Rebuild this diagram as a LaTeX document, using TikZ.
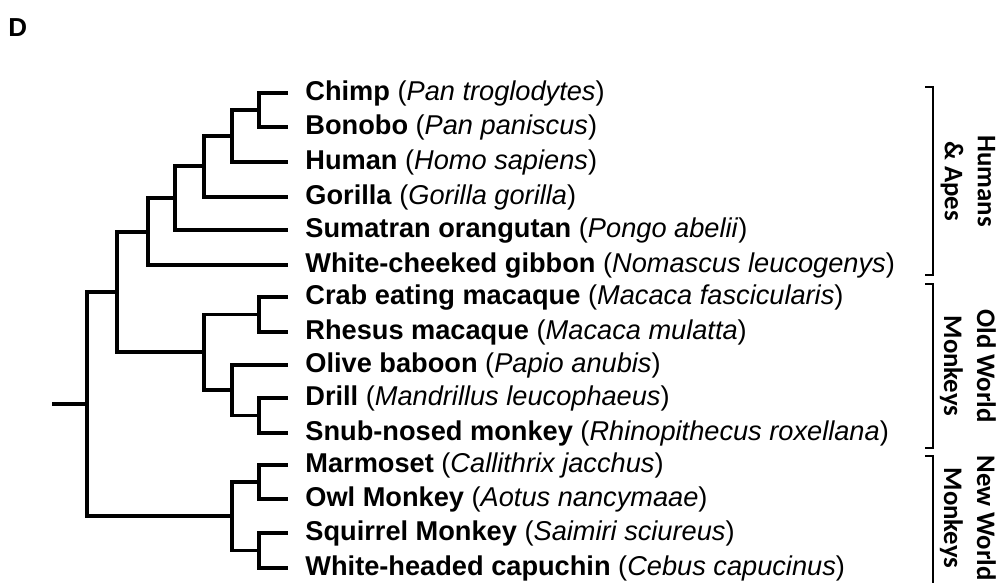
\documentclass[tikz,border=0pt]{standalone}
\usepackage{fontspec}
\setmainfont{Liberation Sans}
\newfontfamily\grpfont{Carlito}

\begin{document}
\begin{tikzpicture}[x=0.5pt, y=-0.5pt,
  branch/.style={line width=1.75pt, line join=miter},
  leaf/.style={anchor=west, inner xsep=8.5pt, inner ysep=0pt, text height=0.72em, text depth=0pt,
    font=\fontsize{13.6}{16}\selectfont},
  bracket/.style={line width=0.7pt},
  grp/.style={rotate=-90, align=center, inner sep=0pt, font=\grpfont\bfseries\fontsize{13.4}{16.5}\selectfont}]
  \useasboundingbox (0,0) rectangle (998,583);
  \node[anchor=base west, inner sep=0pt, font=\bfseries\fontsize{13}{15}\selectfont] (panel) at (8,37) {D};

  % leaves
  \node[leaf] (chimp)    at (288,93)  {\textbf{Chimp} (\textit{Pan troglodytes})};
  \node[leaf] (bonobo)   at (288,127) {\textbf{Bonobo} (\textit{Pan paniscus})};
  \node[leaf] (human)    at (288,162) {\textbf{Human} (\textit{Homo sapiens})};
  \node[leaf] (gorilla)  at (288,197) {\textbf{Gorilla} (\textit{Gorilla gorilla})};
  \node[leaf] (orang)    at (288,230) {\textbf{Sumatran orangutan} (\textit{Pongo abelii})};
  \node[leaf] (gibbon)   at (288,265) {\textbf{White-cheeked gibbon} (\textit{Nomascus leucogenys})};
  \node[leaf] (crab)     at (288,297) {\textbf{Crab eating macaque} (\textit{Macaca fascicularis})};
  \node[leaf] (rhesus)   at (288,332) {\textbf{Rhesus macaque} (\textit{Macaca mulatta})};
  \node[leaf] (baboon)   at (288,365) {\textbf{Olive baboon} (\textit{Papio anubis})};
  \node[leaf] (drill)    at (288,398) {\textbf{Drill} (\textit{Mandrillus leucophaeus})};
  \node[leaf] (snub)     at (288,433) {\textbf{Snub-nosed monkey} (\textit{Rhinopithecus roxellana})};
  \node[leaf] (marmoset) at (288,465) {\textbf{Marmoset} (\textit{Callithrix jacchus})};
  \node[leaf] (owl)      at (288,499) {\textbf{Owl Monkey} (\textit{Aotus nancymaae})};
  \node[leaf] (squirrel) at (288,533) {\textbf{Squirrel Monkey} (\textit{Saimiri sciureus})};
  \node[leaf] (capuchin) at (288,568) {\textbf{White-headed capuchin} (\textit{Cebus capucinus})};

  % internal nodes
  \coordinate (pan)        at (259,110);
  \coordinate (homo)       at (232,136);
  \coordinate (homininae)  at (204,166);
  \coordinate (hominid)    at (175,198);
  \coordinate (hominoid)   at (148,232);
  \coordinate (macaca)     at (259,314.5);
  \coordinate (drillsnub)  at (259,415.5);
  \coordinate (papionini)  at (232,390);
  \coordinate (cercop)     at (204,352);
  \coordinate (catar)      at (117,292);
  \coordinate (callit)     at (259,482);
  \coordinate (cebid)      at (259,550.5);
  \coordinate (platy)      at (232,516);
  \coordinate (root)       at (87,404);
  \coordinate (stub)       at (52,404);

  % branches
  \draw[branch] (pan) |- (chimp.west); \draw[branch] (pan) |- (bonobo.west);
  \draw[branch] (homo) |- (pan); \draw[branch] (homo) |- (human.west);
  \draw[branch] (homininae) |- (homo); \draw[branch] (homininae) |- (gorilla.west);
  \draw[branch] (hominid) |- (homininae); \draw[branch] (hominid) |- (orang.west);
  \draw[branch] (hominoid) |- (hominid); \draw[branch] (hominoid) |- (gibbon.west);
  \draw[branch] (macaca) |- (crab.west); \draw[branch] (macaca) |- (rhesus.west);
  \draw[branch] (drillsnub) |- (drill.west); \draw[branch] (drillsnub) |- (snub.west);
  \draw[branch] (papionini) |- (baboon.west); \draw[branch] (papionini) |- (drillsnub);
  \draw[branch] (cercop) |- (macaca); \draw[branch] (cercop) |- (papionini);
  \draw[branch] (catar) |- (hominoid); \draw[branch] (catar) |- (cercop);
  \draw[branch] (callit) |- (marmoset.west); \draw[branch] (callit) |- (owl.west);
  \draw[branch] (cebid) |- (squirrel.west); \draw[branch] (cebid) |- (capuchin.west);
  \draw[branch] (platy) |- (callit); \draw[branch] (platy) |- (cebid);
  \draw[branch] (root) |- (catar); \draw[branch] (root) |- (platy);
  \draw[branch] (stub) -- (root);

  % groups
  \draw[bracket] (925,87) -- (933,87) -- (933,275) -- (925,275);
  \draw[bracket] (925,284) -- (933,284) -- (933,448) -- (925,448);
  \draw[bracket] (925,456) -- (933,456) -- (933,583);
  \node[grp] (apes) at (968,181) {Humans\\\& Apes};
  \node[grp] (oldw) at (968,366) {Old World\\Monkeys};
  \node[grp] (neww) at (968,518) {New World\\Monkeys};
\end{tikzpicture}
\end{document}
